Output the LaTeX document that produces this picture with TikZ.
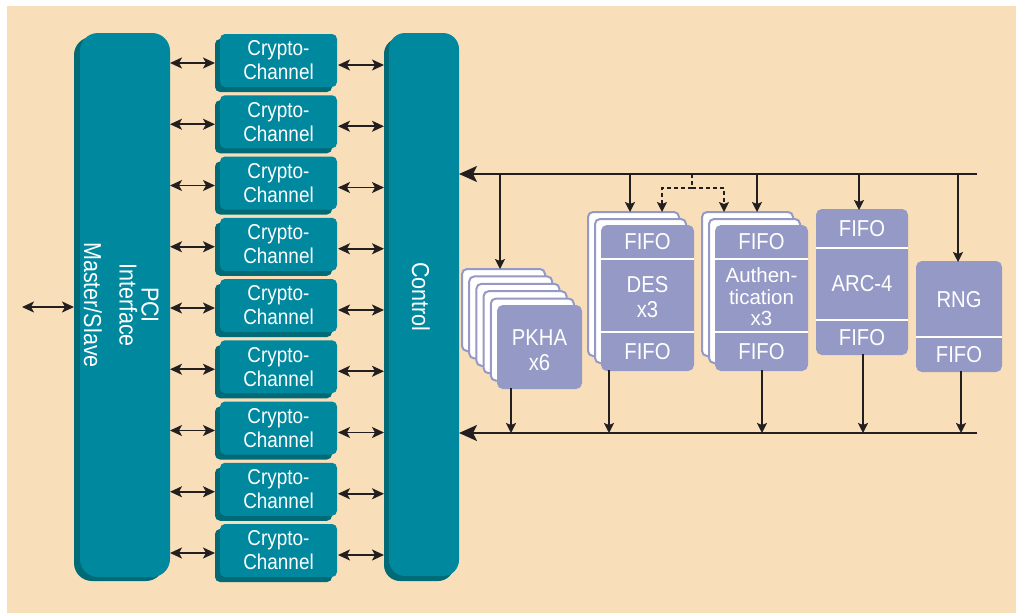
\documentclass[tikz,border=0pt]{standalone}
\usepackage{fontspec}
\setmainfont[FakeStretch=0.88]{Liberation Sans}
\newfontfamily\authfont{Liberation Sans}
\usetikzlibrary{arrows.meta,calc}
\definecolor{bgc}{HTML}{F8DFB9}
\definecolor{tealc}{HTML}{00889E}
\definecolor{tealdk}{HTML}{006A76}
\definecolor{lav}{HTML}{9599C5}
\definecolor{ink}{HTML}{231F20}
\begin{document}
\begin{tikzpicture}[x=1pt,y=-1pt,
  blk/.style={rectangle,inner sep=0pt,outer sep=0pt},
  pcibox/.style={blk,fill=tealc,rounded corners=18pt,minimum width=90pt,minimum height=544pt},
  ctrlbox/.style={blk,fill=tealc,rounded corners=16pt,minimum width=70pt,minimum height=543pt},
  cbox/.style={blk,fill=tealc,rounded corners=5pt,minimum width=117pt,minimum height=53pt,
    text=white,align=center,font=\fontsize{21.5}{24}\selectfont},
  cshadow/.style={blk,fill=tealdk,rounded corners=5pt,minimum width=117pt,minimum height=53pt},
  card/.style={blk,rounded corners=5pt,draw=lav,line width=2pt,fill=white},
  frontcard/.style={card,fill=lav},
  lbl/.style={inner sep=0pt,text=white,align=center,font=\fontsize{23}{25}\selectfont},
  authlbl/.style={inner sep=0pt,text=white,align=center,font=\authfont\fontsize{20.5}{21.5}\selectfont},
  bigtxt/.style={inner sep=0pt,text=white,align=center,rotate=-90,font=\fontsize{24.5}{22}\selectfont},
  divl/.style={draw=white,line width=2.5pt},
  arr/.style={draw=ink,line width=1.5pt,-{Stealth[length=10pt,width=10pt,inset=2pt]}},
  darr/.style={draw=ink,line width=1.6pt,{Stealth[length=12pt,width=11pt,inset=3pt]}-{Stealth[length=12pt,width=11pt,inset=3pt]}},
  bus/.style={draw=ink,line width=2.2pt,-{Stealth[length=18pt,width=16pt,inset=4pt]}},
  dsh/.style={draw=ink,line width=1.2pt,dash pattern=on 4pt off 3pt},
  dsharr/.style={dsh,-{Stealth[length=10pt,width=10pt,inset=2pt]}}
]
\useasboundingbox (0,0) rectangle (1016,613);
\fill[bgc] (7,6) rectangle (1016,613);

% PCI interface block
\node[pcibox,fill=tealdk] (pcish) at (119,309) {};
\node[pcibox] (pci) at (125,305) {};
\node[bigtxt] (pcitxt) at (139,305) {PCI\\Interface};
\node[bigtxt] (mstxt) at (93,305) {Master/Slave};

% Control block
\node[ctrlbox,fill=tealdk] (ctrlsh) at (419,309.5) {};
\node[ctrlbox] (ctrl) at (424,304.5) {};
\node[bigtxt] (ctrltxt) at (421,297) {Control};

% Crypto channels
\foreach \i in {0,...,8}{
  \pgfmathsetmacro\rowtop{34+61.25*\i}
  \node[cshadow] (cs\i) at (273.5,\rowtop+31.5) {};
  \node[cbox] (c\i) at (278.5,\rowtop+26.5) {Crypto-\\Channel};
  \coordinate (la\i) at ($(cs\i.west)+(0,-2.5)$);
  \coordinate (ra\i) at ($(c\i.east)+(1,4.5)$);
  \draw[darr] (pci.east |- la\i) -- (la\i);
  \draw[darr] (ra\i) -- (ctrlsh.west |- ra\i);
}

% external PCI arrow
\coordinate (ext) at (22,307);
\draw[darr] (ext) -- (ext -| pcish.west);

% PKHA stack (6 cards)
\foreach \k in {0,...,4}{
  \node[card,minimum width=83pt,minimum height=82pt] (pk\k) at (503.5+7.2*\k,310+7.4*\k) {};
}
\node[frontcard,minimum width=83pt,minimum height=82pt] (pk5) at (539.5,347) {};
\node[lbl] (pktxt) at (539.5,350) {PKHA\\x6};

% DES stack
\node[card,minimum width=91pt,minimum height=144pt] (des0) at (633.5,284) {};
\node[card,minimum width=91pt,minimum height=144pt] (des1) at (640.5,291) {};
\node[frontcard,minimum width=91pt,minimum height=144pt] (des2) at (647.5,298) {};
\draw[divl] (601,259) -- (694,259);
\draw[divl] (601,332) -- (694,332);
\node[lbl] (desf1) at (647.5,242) {FIFO};
\node[lbl] (destxt) at (647.5,297) {DES\\x3};
\node[lbl] (desf2) at (647.5,352) {FIFO};

% Authentication stack
\node[card,minimum width=91pt,minimum height=144pt] (au0) at (747.5,284) {};
\node[card,minimum width=91pt,minimum height=144pt] (au1) at (754.5,291) {};
\node[frontcard,minimum width=91pt,minimum height=144pt] (au2) at (761.5,298) {};
\draw[divl] (715,259) -- (808,259);
\draw[divl] (715,332) -- (808,332);
\node[lbl] (auf1) at (761.5,242) {FIFO};
\node[authlbl] (autxt) at (761.5,297) {Authen-\\tication\\x3};
\node[lbl] (auf2) at (761.5,352) {FIFO};

% ARC-4
\node[frontcard,minimum width=90pt,minimum height=144pt] (arc) at (862,282) {};
\draw[divl] (816,248) -- (908,248);
\draw[divl] (816,320) -- (908,320);
\node[lbl] (arcf1) at (862,229) {FIFO};
\node[lbl] (arctxt) at (862,284) {ARC-4};
\node[lbl] (arcf2) at (862,338) {FIFO};

% RNG
\node[frontcard,minimum width=84pt,minimum height=109pt] (rng) at (959,316.5) {};
\draw[divl] (916,337) -- (1002,337);
\node[lbl] (rngtxt) at (959,300) {RNG};
\node[lbl] (rngf) at (959,355) {FIFO};

% top bus
\coordinate (tbe) at (977,174);
\draw[bus] (tbe) -- (tbe -| ctrl.east);
\coordinate (t1) at (500,174);
\coordinate (t2) at (630,174);
\coordinate (t3) at (757,174);
\coordinate (t4) at (859,174);
\coordinate (t5) at (958,174);
\draw[arr] (t1) -- (t1 |- pk0.north);
\draw[arr] (t2) -- (t2 |- des0.north);
\draw[arr] (t3) -- (t3 |- au0.north);
\draw[arr] (t4) -- (t4 |- arc.north);
\draw[arr] (t5) -- (t5 |- rng.north);
% dashed shared path
\coordinate (dt) at (692,174);
\coordinate (dl) at (662,188);
\coordinate (dr) at (724,188);
\draw[dsh] (dt) -- (dt |- dl);
\draw[dsharr] (dt |- dl) -- (dl) -- (dl |- des0.north);
\draw[dsharr] (dt |- dr) -- (dr) -- (dr |- au0.north);

% bottom bus
\coordinate (bbe) at (977,433);
\draw[bus] (bbe) -- (bbe -| ctrl.east);
\coordinate (b1) at (511,433);
\coordinate (b2) at (609,433);
\coordinate (b3) at (762,433);
\coordinate (b4) at (863,433);
\coordinate (b5) at (961,433);
\draw[arr] (b1 |- pk5.south) -- (b1);
\draw[arr] (b2 |- des2.south) -- (b2);
\draw[arr] (b3 |- au2.south) -- (b3);
\draw[arr] (b4 |- arc.south) -- (b4);
\draw[arr] (b5 |- rng.south) -- (b5);
\end{tikzpicture}
\end{document}
